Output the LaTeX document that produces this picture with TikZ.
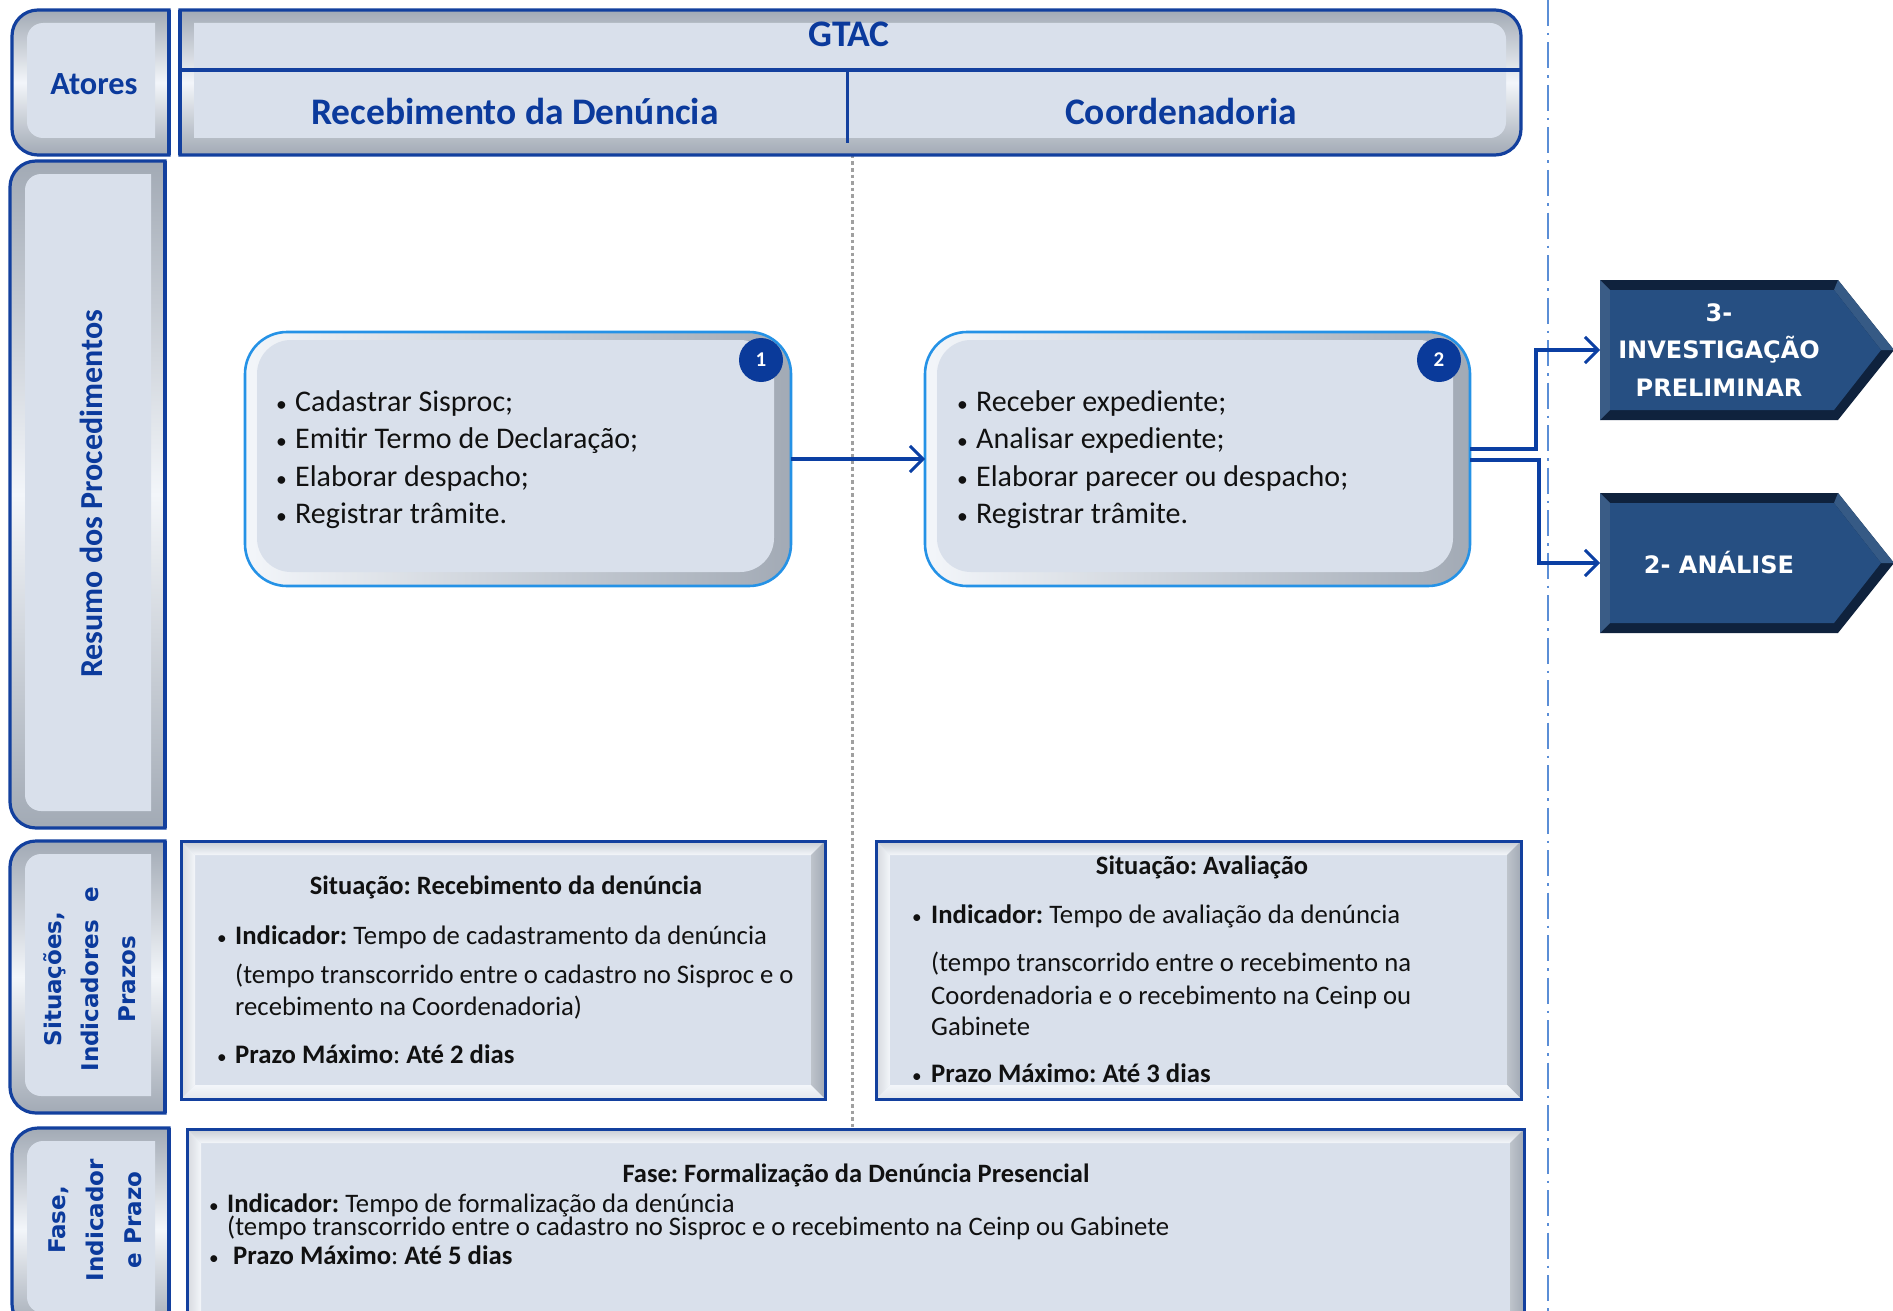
\documentclass[tikz,border=0pt]{standalone}
\usepackage{fontspec}
\setmainfont{Carlito}
\newfontfamily\widesans{DejaVu Sans}
\usetikzlibrary{arrows.meta}
\frenchspacing

\definecolor{face}{HTML}{D9E0EB}
\definecolor{hilite}{HTML}{F3F6FA}
\definecolor{shade}{HTML}{A2AAB5}
\definecolor{navy}{HTML}{13409E}
\definecolor{ttl}{HTML}{0B3A9C}
\definecolor{ink}{HTML}{111111}
\definecolor{cyanedge}{HTML}{2592E6}
\definecolor{linkblue}{HTML}{0B3FA3}
\definecolor{badgeblue}{HTML}{0A3A9A}
\definecolor{chevface}{HTML}{264F82}
\definecolor{chevdark}{HTML}{0F223D}
\definecolor{chevlight}{HTML}{3A5C86}
\definecolor{sepblue}{HTML}{5B8ED6}
\definecolor{dotgray}{HTML}{A0A0A0}

% small list bullet in a box of given width
\newcommand\dotmark[1]{\makebox[#1][l]{\scalebox{0.72}{•}}}

\tikzset{
  conn/.style={draw=linkblue, line width=3.2pt,
    -{Straight Barb[length=13pt,width=26pt,line width=3pt]}},
  hdr/.style={text=ttl, inner sep=0, font=\bfseries\fontsize{37.5}{44}\selectfont},
  sidelbl/.style={text=ttl, rotate=90, align=center, inner sep=0},
  body/.style={anchor=base west, inner sep=0, text=ink, font=\fontsize{30}{36}\selectfont},
  small/.style={anchor=base west, inner sep=0, text=ink, font=\fontsize{26.7}{32}\selectfont},
  smalltitle/.style={inner sep=0, text=ink, font=\bfseries\fontsize{26.5}{32}\selectfont},
  chevtext/.style={text=white, align=center, inner sep=0,
    font=\widesans\bfseries\fontsize{24}{37.5}\selectfont},
  badge/.style={circle, fill=badgeblue, minimum size=44pt, inner sep=0,
    text=white, font=\bfseries\fontsize{21}{21}\selectfont},
  holder/.style={inner sep=0, outer sep=0, minimum width=#1},
}

% panel with rounded left corners and a soft bevel
\newcommand\leftpanel[4]{%
  \begin{scope}
    \clip ({#1-5},{#2-5}) rectangle (#3,{#4+5});
    \fill[top color=shade, bottom color=shade, middle color=hilite, rounded corners=26]
      (#1,#2) rectangle ({#3+60},#4);
  \end{scope}
  \begin{scope}
    \clip ({#1-5},{#2-5}) rectangle ({#3-14},{#4+5});
    \fill[face, rounded corners=16] ({#1+15},{#2+13}) rectangle ({#3+60},{#4-17});
  \end{scope}
  \begin{scope}
    \clip ({#1-5},{#2-5}) rectangle ({#3+1.6},{#4+5});
    \draw[navy, line width=3.2pt, rounded corners=26] (#1,#2) rectangle ({#3+60},#4);
  \end{scope}
  \draw[navy, line width=3.2pt] (#3,#2) -- (#3,#4);
}

% panel with rounded right corners and a soft bevel
\newcommand\rightpanel[4]{%
  \begin{scope}
    \clip (#1,{#2-5}) rectangle ({#3+5},{#4+5});
    \fill[top color=shade, bottom color=shade, middle color=hilite, rounded corners=26]
      ({#1-60},#2) rectangle (#3,#4);
  \end{scope}
  \begin{scope}
    \clip ({#1+14},{#2-5}) rectangle ({#3+5},{#4+5});
    \fill[face, rounded corners=16] ({#1-60},{#2+13}) rectangle ({#3-15},{#4-17});
  \end{scope}
  \begin{scope}
    \clip ({#1-1.6},{#2-5}) rectangle ({#3+5},{#4+5});
    \draw[navy, line width=3.2pt, rounded corners=26] ({#1-60},#2) rectangle (#3,#4);
  \end{scope}
  \draw[navy, line width=3.2pt] (#1,#2) -- (#1,#4);
}

% square box with bevelled edges
\newcommand\bevelrect[4]{%
  \fill[face] (#1,#2) rectangle (#3,#4);
  \path[top color=shade!60, bottom color=hilite]
    (#1,#2) -- (#3,#2) -- ({#3-14},{#2+14}) -- ({#1+14},{#2+14}) -- cycle;
  \path[left color=shade!45, right color=hilite]
    (#1,#2) -- ({#1+14},{#2+14}) -- ({#1+14},{#4-14}) -- (#1,#4) -- cycle;
  \path[left color=shade!70, right color=shade]
    (#3,#2) -- (#3,#4) -- ({#3-14},{#4-14}) -- ({#3-14},{#2+14}) -- cycle;
  \path[top color=hilite, bottom color=hilite!80!shade]
    (#1,#4) -- (#3,#4) -- ({#3-14},{#4-14}) -- ({#1+14},{#4-14}) -- cycle;
  \draw[navy, line width=3pt] (#1,#2) rectangle (#3,#4);
}

% rounded process box drawn around a placeholder node
\newcommand\procbox[1]{%
  \fill[left color=hilite, right color=shade, rounded corners=42]
    (#1.north west) rectangle (#1.south east);
  \fill[face, rounded corners=34]
    ([xshift=12pt,yshift=-8pt]#1.north west) rectangle ([xshift=-17pt,yshift=14pt]#1.south east);
  \draw[cyanedge, line width=2.6pt, rounded corners=42]
    (#1.north west) rectangle (#1.south east);
}

% pentagon arrow (chevron) drawn around a placeholder node
\newcommand\drawchevron[1]{%
  \fill[chevdark] (#1.north west) -- (#1.north east) -- ([xshift=56pt]#1.east)
    -- (#1.south east) -- (#1.south west) -- cycle;
  \fill[chevlight] (#1.north west) -- ([xshift=10pt,yshift=-10pt]#1.north west)
    -- ([xshift=10pt,yshift=10pt]#1.south west) -- (#1.south west) -- cycle;
  \fill[chevlight!80!chevface] (#1.north east) -- ([xshift=56pt]#1.east)
    -- ([xshift=43pt]#1.east) -- ([xshift=-4pt,yshift=-10pt]#1.north east) -- cycle;
  \fill[chevface] ([xshift=10pt,yshift=-10pt]#1.north west)
    -- ([xshift=-4pt,yshift=-10pt]#1.north east) -- ([xshift=43pt]#1.east)
    -- ([xshift=-4pt,yshift=10pt]#1.south east) -- ([xshift=10pt,yshift=10pt]#1.south west) -- cycle;
}

\begin{document}
\begin{tikzpicture}[x=1pt,y=-1pt]
\useasboundingbox (0,0) rectangle (1893,1311);

% lane separators
\draw[dotgray, line width=3pt, dash pattern=on 3.5pt off 3pt] (852,155) -- (852,1128);
\draw[sepblue, line width=2pt, dash pattern=on 26pt off 7pt on 2.5pt off 7pt] (1548,0) -- (1548,1311);

% header row
\leftpanel{12}{10}{169}{155}
\node[hdr, font=\bfseries\fontsize{32.3}{38}\selectfont] (atores) at (94,84) {Atores};
\rightpanel{180}{10}{1521}{155}
\draw[navy, line width=3.5pt] (180,70) -- (1521,70);
\draw[navy, line width=3pt] (847,70) -- (847,143);
\node[hdr] (gtac) at (849,34) {GTAC};
\node[hdr] (lane1) at (515,111) {Recebimento da Denúncia};
\node[hdr] (lane2) at (1181,111) {Coordenadoria};

% row labels
\leftpanel{10}{161}{165}{828}
\node[sidelbl, font=\bfseries\fontsize{32}{38}\selectfont] (resumo) at (91,494) {Resumo dos Procedimentos};
\leftpanel{10}{841}{165}{1113}
\node[sidelbl, font=\widesans\bfseries\fontsize{23}{37}\selectfont] (sitlbl) at (90,979)
  {Situações,\\Indicadores\hspace{10pt} e\\Prazos};
\leftpanel{12}{1128}{169}{1330}
\node[sidelbl, font=\widesans\bfseries\fontsize{23}{38}\selectfont] (faselbl) at (95,1220)
  {Fase,\\Indicador\\e Prazo};

% process boxes
\node[holder=546pt, minimum height=254pt] (box1) at (518,459) {};
\procbox{box1}
\node[badge] (n1) at (761,360) {1};
\node[body] (b1a) at (276,411) {\dotmark{19pt}Cadastrar Sisproc;};
\node[body] (b1b) at (276,448) {\dotmark{19pt}Emitir Termo de Declaração;};
\node[body] (b1c) at (276,486) {\dotmark{19pt}Elaborar despacho;};
\node[body] (b1d) at (276,523) {\dotmark{19pt}Registrar trâmite.};

\node[holder=545pt, minimum height=254pt] (box2) at (1197.5,459) {};
\procbox{box2}
\node[badge] (n2) at (1439,360) {2};
\node[body] (b2a) at (957,411) {\dotmark{19pt}Receber expediente;};
\node[body] (b2b) at (957,448) {\dotmark{19pt}Analisar expediente;};
\node[body] (b2c) at (957,486) {\dotmark{19pt}Elaborar parecer ou despacho;};
\node[body] (b2d) at (957,523) {\dotmark{19pt}Registrar trâmite.};

% next phases
\node[holder=238pt, minimum height=140pt] (chev1) at (1719,350) {};
\drawchevron{chev1}
\node[chevtext] (chev1t) at (chev1) {3-\\INVESTIGAÇÃO\\PRELIMINAR};
\node[holder=238pt, minimum height=140pt] (chev2) at (1719,563) {};
\drawchevron{chev2}
\node[chevtext] (chev2t) at (chev2) {2- ANÁLISE};

% flow
\draw[conn] (box1.east) -- (box2.west);
\draw[conn] ([yshift=10pt]box2.east) -- ++(66,0) |- (chev1.west);
\draw[conn] ([yshift=-1pt]box2.east) -- ++(69,0) |- (chev2.west);

% situations, indicators and deadlines
\bevelrect{181}{841}{825}{1099}
\node[smalltitle] (s1t) at (506,887) {Situação: Recebimento da denúncia};
\node[small] (s1a) at (217,944) {\dotmark{18pt}\textbf{Indicador:} Tempo de cadastramento da denúncia};
\node[small] (s1b) at (235,983) {(tempo transcorrido entre o cadastro no Sisproc e o};
\node[small] (s1c) at (235,1015) {recebimento na Coordenadoria)};
\node[small] (s1d) at (217,1063) {\dotmark{18pt}\textbf{Prazo Máximo}: \textbf{Até 2 dias}};

\bevelrect{876}{841}{1521}{1099}
\node[smalltitle] (s2t) at (1202,867) {Situação: Avaliação};
\node[small] (s2a) at (912,923) {\dotmark{19pt}\textbf{Indicador:} Tempo de avaliação da denúncia};
\node[small] (s2b) at (931,971) {(tempo transcorrido entre o recebimento na};
\node[small] (s2c) at (931,1004) {Coordenadoria e o recebimento na Ceinp ou};
\node[small] (s2d) at (931,1035) {Gabinete};
\node[small] (s2e) at (912,1082) {\dotmark{19pt}\textbf{Prazo Máximo: Até 3 dias}};

% phase summary
\bevelrect{187}{1129}{1524}{1330}
\node[smalltitle] (ft) at (856,1175) {Fase: Formalização da Denúncia Presencial};
\node[small] (fa) at (209,1212) {\dotmark{18pt}\textbf{Indicador:} Tempo de formalização da denúncia};
\node[small] (fb) at (227,1235) {(tempo transcorrido entre o cadastro no Sisproc e o recebimento na Ceinp ou Gabinete};
\node[small] (fc) at (209,1264) {\dotmark{24pt}\textbf{Prazo Máximo}: \textbf{Até 5 dias}};
\end{tikzpicture}
\end{document}
